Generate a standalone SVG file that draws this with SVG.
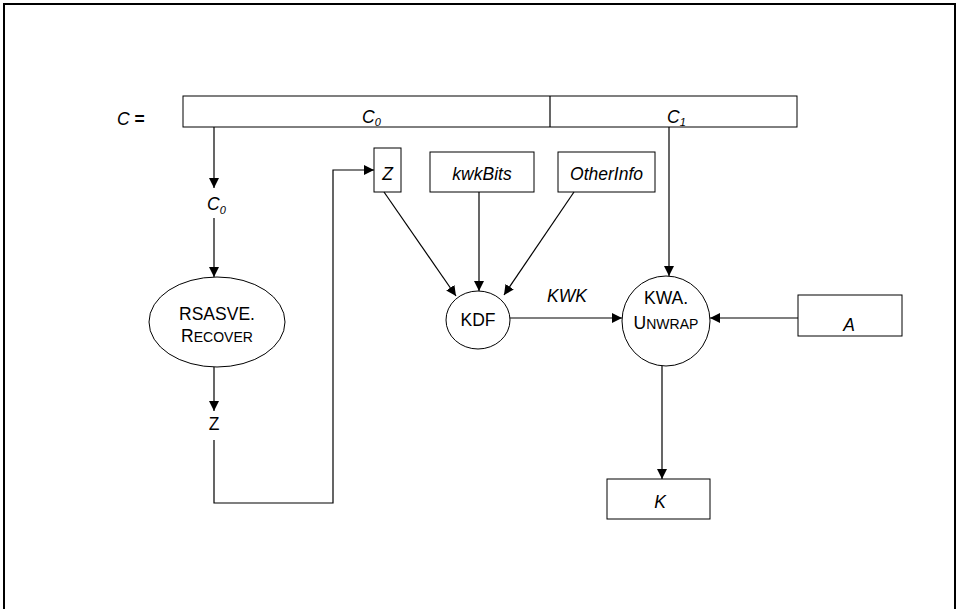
<svg xmlns="http://www.w3.org/2000/svg" width="959" height="609" viewBox="0 0 959 609">
<style>
text{font-family:"Liberation Sans",Arial,sans-serif;font-size:17.5px;fill:#000}
.i{font-style:italic}
.box{fill:#fff;stroke:#000;stroke-width:1}
.ln{fill:none;stroke:#000;stroke-width:1.2}
.sc{font-size:14px}
.sub{font-size:11px;font-style:italic}
</style>
<defs>
<marker id="ah" viewBox="0 0 10 10" refX="10" refY="5" markerWidth="10" markerHeight="10" markerUnits="userSpaceOnUse" orient="auto">
<path d="M0,0 L10,5 L0,10 z" fill="#000"/>
</marker>
</defs>
<rect x="4" y="4" width="951" height="640" fill="#fff" stroke="#000" stroke-width="2"/>
<g id="C_label"><text x="117" y="125"><tspan class="i">C</tspan><tspan font-weight="bold"> =</tspan></text></g>
<g id="C_box">
<rect class="box" x="183" y="96" width="614" height="31"/>
<line class="ln" x1="550" y1="96" x2="550" y2="127"/>
<text x="362" y="123" class="i">C<tspan class="sub" dy="3">0</tspan></text>
<text x="667" y="123" class="i">C<tspan class="sub" dy="3">1</tspan></text>
</g>
<g id="C0_label"><text x="207" y="210" class="i">C<tspan class="sub" dy="4">0</tspan></text></g>
<g id="RSASVE"><ellipse class="box" cx="217" cy="322" rx="68" ry="45"/>
<text x="217" y="320" text-anchor="middle">RSASVE.</text>
<text x="217" y="342" text-anchor="middle">R<tspan class="sc">ECOVER</tspan></text></g>
<g id="Z_label"><text x="214" y="430" text-anchor="middle">Z</text></g>
<g id="Z_box"><rect class="box" x="374" y="148" width="27" height="44"/><text x="387.5" y="180" text-anchor="middle" class="i">Z</text></g>
<g id="kwkBits"><rect class="box" x="430" y="152" width="104" height="40"/><text x="482" y="180" text-anchor="middle" class="i">kwkBits</text></g>
<g id="OtherInfo"><rect class="box" x="558" y="152" width="97" height="40"/><text x="606.5" y="180" text-anchor="middle" class="i">OtherInfo</text></g>
<g id="KDF"><ellipse class="box" cx="478" cy="320" rx="32" ry="29"/><text x="478" y="326" text-anchor="middle">KDF</text></g>
<g id="KWA"><ellipse class="box" cx="666" cy="321" rx="44" ry="45"/>
<text x="666" y="304" text-anchor="middle">KWA.</text>
<text x="666" y="329" text-anchor="middle">U<tspan class="sc">NWRAP</tspan></text></g>
<g id="A_box"><rect class="box" x="798" y="295" width="104" height="41"/><text x="849" y="331" text-anchor="middle" class="i">A</text></g>
<g id="K_box"><rect class="box" x="607" y="479" width="103" height="40"/><text x="660" y="508" text-anchor="middle" class="i">K</text></g>
<g id="connectors">
<line class="ln" x1="214" y1="127" x2="214" y2="188" marker-end="url(#ah)"/>
<line class="ln" x1="214" y1="218" x2="214" y2="277" marker-end="url(#ah)"/>
<line class="ln" x1="214" y1="367" x2="214" y2="411" marker-end="url(#ah)"/>
<polyline class="ln" points="214,440 214,503 333,503 333,170 374,170" marker-end="url(#ah)"/>
<line class="ln" x1="384" y1="192" x2="456" y2="296" marker-end="url(#ah)"/>
<line class="ln" x1="479" y1="192" x2="479" y2="291" marker-end="url(#ah)"/>
<line class="ln" x1="574" y1="192" x2="504" y2="295" marker-end="url(#ah)"/>
<line class="ln" x1="510" y1="318" x2="622" y2="318" marker-end="url(#ah)"/>
<text x="567" y="302" text-anchor="middle" class="i">KWK</text>
<line class="ln" x1="669" y1="127" x2="669" y2="276" marker-end="url(#ah)"/>
<line class="ln" x1="798" y1="318" x2="710" y2="318" marker-end="url(#ah)"/>
<line class="ln" x1="662" y1="366" x2="662" y2="479" marker-end="url(#ah)"/>
</g>
</svg>
